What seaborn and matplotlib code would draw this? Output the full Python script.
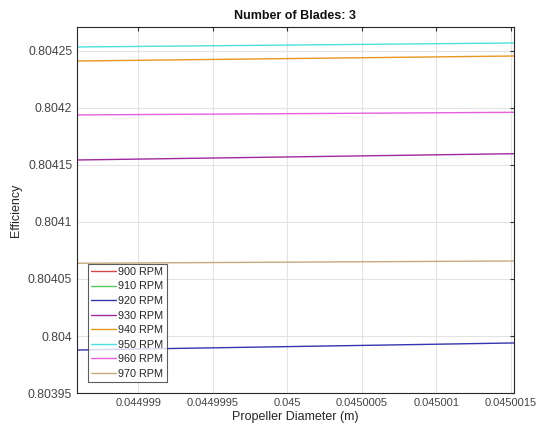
import numpy as np
import pandas as pd
import matplotlib
matplotlib.use('Agg')
import matplotlib.pyplot as plt
import seaborn as sns
from matplotlib.lines import Line2D

# diameters at the two ends of the sweep
diameter = [0.04499859, 0.04500152]

rpm_labels = ['900 RPM', '910 RPM', '920 RPM', '930 RPM', '940 RPM', '950 RPM', '960 RPM', '970 RPM']
colors = ['#d04848', '#5cc85c', '#3434b0', '#a0289c', '#e8961e', '#4ce0e0', '#e460e0', '#c8aa80']

# efficiency at both ends (900/910 RPM lie outside the shown range)
eff_900 = [np.nan, np.nan]
eff_910 = [np.nan, np.nan]
eff_920 = [0.8039877, 0.8039939]
eff_930 = [0.8041544, 0.8041599]
eff_940 = [0.8042412, 0.8042456]
eff_950 = [0.8042535, 0.8042570]
eff_960 = [0.8041939, 0.8041962]
eff_970 = [0.8040638, 0.8040658]
series = [eff_900, eff_910, eff_920, eff_930, eff_940, eff_950, eff_960, eff_970]

rows = []
for lab, vals in zip(rpm_labels, series):
    for d, v in zip(diameter, vals):
        rows.append({'Diameter': d, 'Efficiency': v, 'RPM': lab})
df = pd.DataFrame(rows).dropna()

sns.set_style('white')
plt.rcParams['font.family'] = ['Liberation Sans', 'DejaVu Sans']

fig = plt.figure(figsize=(5.45, 4.36), dpi=100)
ax = fig.add_axes([0.1413, 0.0986, 0.8017, 0.8394])

pal = dict(zip(rpm_labels, colors))
sns.lineplot(data=df, x='Diameter', y='Efficiency', hue='RPM', palette=pal,
             linewidth=1.0, legend=False, ax=ax)

ax.set_xlim(diameter[0], diameter[1])
ax.set_ylim(0.80395, 0.804271)
xt = [0.044999, 0.0449995, 0.045, 0.0450005, 0.045001, 0.0450015]
yt = [0.80395, 0.804, 0.80405, 0.8041, 0.80415, 0.8042, 0.80425]
ax.set_xticks(xt)
ax.set_xticklabels(['0.044999', '0.0449995', '0.045', '0.0450005', '0.045001', '0.0450015'])
ax.set_yticks(yt)
ax.set_yticklabels(['0.80395', '0.804', '0.80405', '0.8041', '0.80415', '0.8042', '0.80425'])
ax.grid(True, color='#e3e3e3', linewidth=0.8)
ax.tick_params(axis='x', labelsize=8)
ax.tick_params(axis='y', labelsize=8.8)
ax.tick_params(direction='in', length=3, top=True, right=True,
               colors='#333333', labelcolor='#444444')
for s in ax.spines.values():
    s.set_color('#262626')
    s.set_linewidth(0.8)

ax.set_xlabel('Propeller Diameter (m)', fontsize=9, color='#262626', labelpad=2)
ax.set_ylabel('Efficiency', fontsize=9, color='#262626', labelpad=4)
ax.set_title('Number of Blades: 3', fontsize=9, fontweight='bold', color='#111111', pad=6)

handles = [Line2D([0], [0], color=c, lw=1.0) for c in colors]
leg = ax.legend(handles, rpm_labels, loc='lower left', bbox_to_anchor=(0.025, 0.03),
                fontsize=7.8, frameon=True, fancybox=False, handlelength=2.3,
                handletextpad=0.2, labelspacing=0.42, borderpad=0.3, borderaxespad=0)
leg.get_frame().set_edgecolor('#333333')
leg.get_frame().set_linewidth(0.8)

fig.savefig('out.png', dpi=100)
